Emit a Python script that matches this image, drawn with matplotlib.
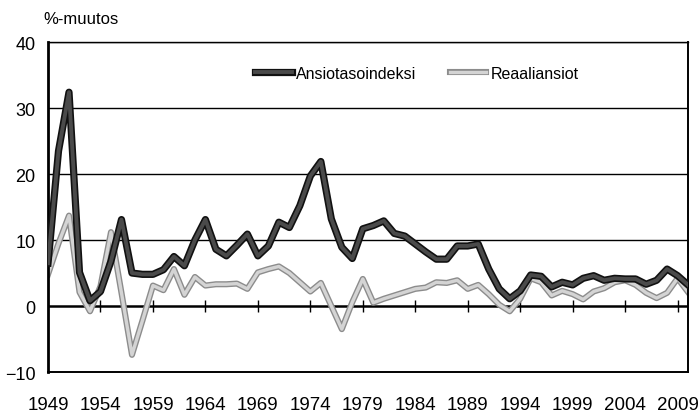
import matplotlib
matplotlib.use('Agg')
import matplotlib.pyplot as plt
import matplotlib.patheffects as pe
import numpy as np

plt.rcParams['font.family'] = ['Liberation Sans', 'DejaVu Sans']

years = list(range(1949, 2011))

ansiotaso = [6.5, 23.5, 32.4, 5.1, 0.8, 2.2, 6.8, 13.1, 5.0, 4.8,
             4.8, 5.5, 7.5, 6.1, 10.0, 13.1, 8.6, 7.6, 9.2, 10.9,
             7.6, 9.1, 12.7, 11.9, 15.2, 19.7, 21.9, 13.2, 8.9, 7.2,
             11.7, 12.2, 12.9, 11.0, 10.6, 9.4, 8.2, 7.1, 7.1, 9.1,
             9.1, 9.4, 5.6, 2.6, 1.1, 2.3, 4.7, 4.5, 2.9, 3.6,
             3.2, 4.2, 4.6, 3.9, 4.2, 4.1, 4.1, 3.3, 3.9, 5.6,
             4.6, 3.2]

reaali = [4.8, 9.5, 13.7, 2.1, -0.8, 3.0, 11.2, 2.0, -7.4, -2.2,
          3.1, 2.4, 5.6, 1.7, 4.4, 3.1, 3.3, 3.3, 3.4, 2.6,
          5.1, 5.6, 6.0, 5.0, 3.6, 2.2, 3.5, 0.0, -3.5, 0.6,
          4.1, 0.5, 1.1, 1.6, 2.1, 2.6, 2.8, 3.6, 3.5, 3.9,
          2.6, 3.2, 1.8, 0.2, -0.8, 1.1, 4.2, 3.6, 1.6, 2.3,
          1.8, 1.0, 2.2, 2.7, 3.6, 3.9, 3.2, 2.0, 1.2, 2.0,
          4.2, 2.1]

tick_years = list(range(1954, 2010, 5))
label_years = list(range(1949, 2010, 5))

fig = plt.figure(figsize=(6.98, 4.14), dpi=100)
ax = fig.add_axes([0.0688, 0.099, 0.917, 0.797])

for v in [10, 20, 30, 40]:
    ax.axhline(v, color='black', lw=1.0, zorder=1)
ax.axhline(0, color='black', lw=1.8, zorder=1)
ax.vlines(tick_years, -0.9, 0.9, color='black', lw=1.0, zorder=1)

ax.plot(years, ansiotaso, color='#4a4a4a', lw=2.8, label='Ansiotasoindeksi', zorder=3,
        solid_joinstyle='round',
        path_effects=[pe.Stroke(linewidth=5.2, foreground='#111111'), pe.Normal()])
ax.plot(years, reaali, color='#d4d4d4', lw=2.4, label='Reaaliansiot', zorder=2,
        solid_joinstyle='round',
        path_effects=[pe.Stroke(linewidth=4.4, foreground='#8c8c8c'), pe.Normal()])

ax.set_xlim(1949, 2010)
ax.set_ylim(-10, 40)
ax.set_yticks([-10, 0, 10, 20, 30, 40])
ax.set_xticks(label_years)
ax.tick_params(axis='both', length=0, labelsize=13)
ax.tick_params(axis='x', pad=17, labelsize=13.5)
ax.tick_params(axis='y', pad=9)

ax.spines['left'].set_linewidth(2.0)
ax.spines['right'].set_linewidth(1.4)
ax.spines['bottom'].set_linewidth(1.4)
ax.spines['top'].set_linewidth(1.0)

fig.text(0.062, 0.952, '%-muutos', fontsize=12, ha='left', va='center')

leg = ax.legend(loc='center', bbox_to_anchor=(0.576, 0.906), ncol=2, frameon=False,
                fontsize=11.5, handlelength=2.3, handletextpad=0.25, columnspacing=2.1)

fig.savefig('out.png', dpi=100)
